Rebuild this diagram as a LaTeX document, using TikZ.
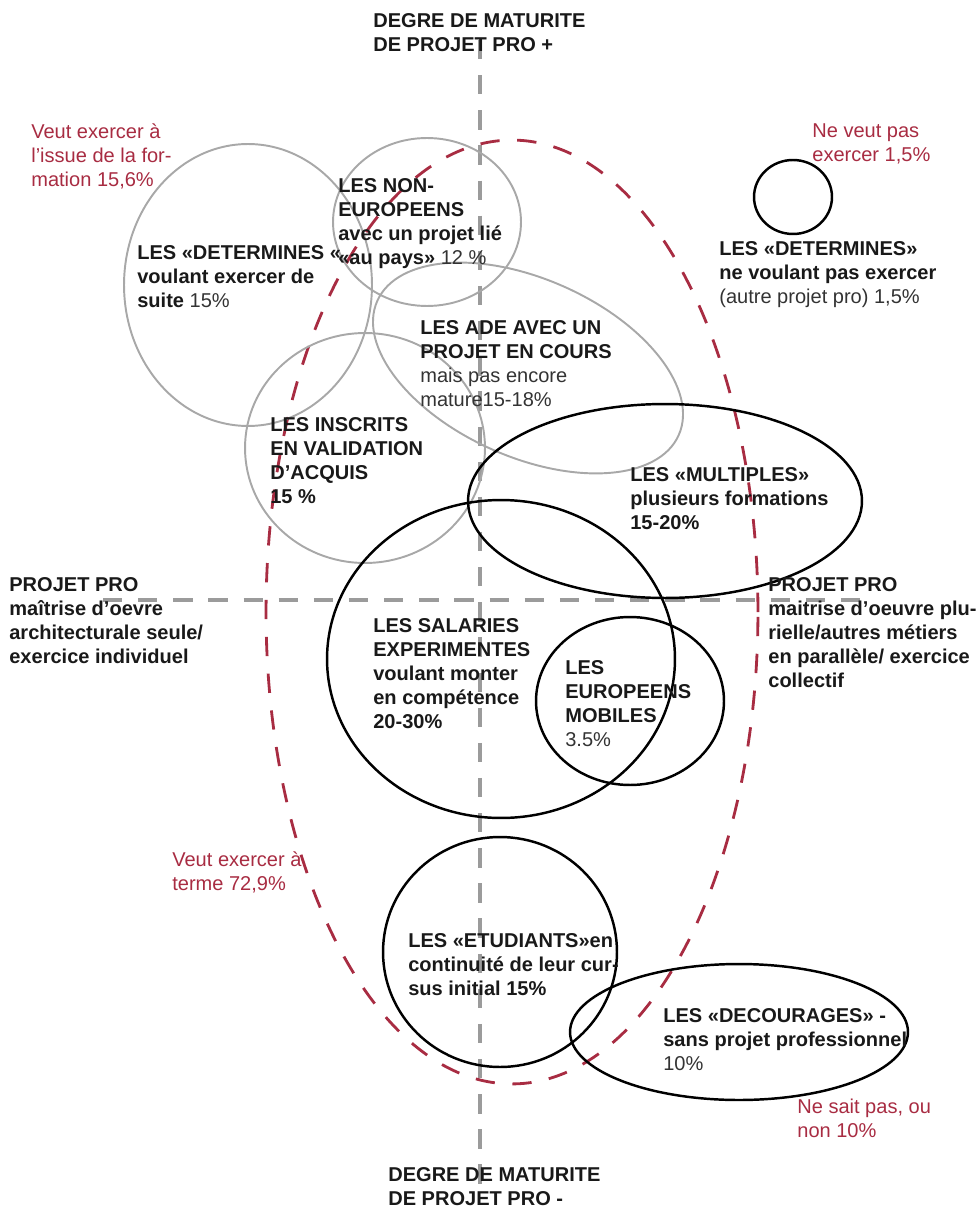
\documentclass[tikz,border=0pt]{standalone}
\usepackage{fontspec}
\setmainfont{Liberation Sans}
\usepackage{xcolor}
\usepackage{tikz}
\definecolor{rougeprojet}{HTML}{A82C42}
\definecolor{grisaxe}{HTML}{9B9B9B}
\definecolor{grisbulle}{HTML}{A8A8A8}
\newcommand{\reg}[1]{{\mdseries\color{black!80}#1}}

\begin{document}
\begin{tikzpicture}[x=0.02cm, y=0.02cm,
  axe/.style={grisaxe, line width=2.3pt, dash pattern=on 11pt off 9pt},
  enveloppe/.style={rougeprojet, line width=1.6pt, dash pattern=on 11pt off 10pt},
  bullegrise/.style={grisbulle, line width=1.1pt},
  bullenoire/.style={black, line width=1.4pt},
  txt/.style={anchor=north west, inner sep=0pt, align=left, text=black!90,
    font=\fontsize{11.4}{13.6}\selectfont\bfseries},
  rtxt/.style={txt, text=rougeprojet, font=\fontsize{11.4}{13.6}\selectfont}]
\useasboundingbox (0,0) rectangle (979,-1209);

% axes
\coordinate (haut) at (480,-40);
\coordinate (bas) at (480,-1190);
\coordinate (gauche) at (103,-600);
\coordinate (droite) at (875,-600);
\draw[axe] (haut) -- (bas);
\draw[axe] (gauche) -- (droite);

% veut exercer
\draw[enveloppe] (512,-612) ellipse (4.92cm and 9.44cm);

% bulles grises
\draw[bullegrise] (248,-285) ellipse (2.48cm and 2.82cm);
\draw[bullegrise] (427,-222) ellipse (1.88cm and 1.68cm);
\draw[bullegrise, rotate around={-24:(528,-368)}] (528,-368) ellipse (3.3cm and 1.78cm);
\draw[bullegrise] (365,-448) ellipse (2.4cm and 2.3cm);

% bulles noires
\draw[bullenoire] (793,-197) ellipse (0.78cm and 0.74cm);
\draw[bullenoire] (665,-501) ellipse (3.94cm and 1.94cm);
\draw[bullenoire] (501,-659) ellipse (3.48cm and 3.18cm);
\draw[bullenoire] (630,-701) ellipse (1.88cm and 1.68cm);
\draw[bullenoire] (500,-952) ellipse (2.34cm and 2.3cm);
\draw[bullenoire] (739,-1032) ellipse (3.38cm and 1.36cm);

% textes
\node[txt] (axehaut) at (373,-13.5) {DEGRE DE MATURITE\\DE PROJET PRO +};
\node[rtxt] (issue) at (31,-123.5) {Veut exercer à\\l'issue de la for-\\mation 15,6\%};
\node[rtxt] (neveut) at (812,-123.5) {Ne veut pas\\exercer 1,5\%};
\node[txt] (detno) at (719,-241.5) {LES «DETERMINES»\\ne voulant pas exercer\\\reg{(autre projet pro) 1,5\%}};
\node[txt] (detyes) at (137,-245.5) {LES «DETERMINES «\\voulant exercer de\\suite \reg{15\%}};
\node[txt] (noneuro) at (338,-178.5) {LES NON-\\EUROPEENS\\avec un projet lié\\«au pays» \reg{12 \%}};
\node[txt] (ade) at (420,-320.5) {LES ADE AVEC UN\\PROJET EN COURS\\\reg{mais pas encore}\\\reg{mature15-18\%}};
\node[txt] (vae) at (270,-417.5) {LES INSCRITS\\EN VALIDATION\\D’ACQUIS\\15 \%};
\node[txt] (multiples) at (630,-467.5) {LES «MULTIPLES»\\plusieurs formations\\15-20\%};
\node[txt] (projgauche) at (9,-577.5) {PROJET PRO\\maîtrise d’oevre\\architecturale seule/\\exercice individuel};
\node[txt] (projdroite) at (768,-577.5) {PROJET PRO\\maitrise d’oeuvre plu-\\rielle/autres métiers\\en parallèle/ exercice\\collectif};
\node[txt] (salaries) at (373,-618.5) {LES SALARIES\\EXPERIMENTES\\voulant monter\\en compétence\\20-30\%};
\node[txt] (europeens) at (565,-660.5) {LES\\EUROPEENS\\MOBILES\\\reg{3.5\%}};
\node[rtxt] (terme) at (172,-851.5) {Veut exercer à\\terme 72,9\%};
\node[txt] (etudiants) at (408,-933.5) {LES «ETUDIANTS»en\\continuité de leur cur-\\sus initial 15\%};
\node[txt] (decourages) at (663,-1008.5) {LES «DECOURAGES» -\\sans projet professionnel\\\reg{10\%}};
\node[rtxt] (nesaitpas) at (797,-1098.5) {Ne sait pas, ou\\non 10\%};
\node[txt] (axebas) at (388,-1167.5) {DEGRE DE MATURITE\\DE PROJET PRO -};
\end{tikzpicture}
\end{document}
